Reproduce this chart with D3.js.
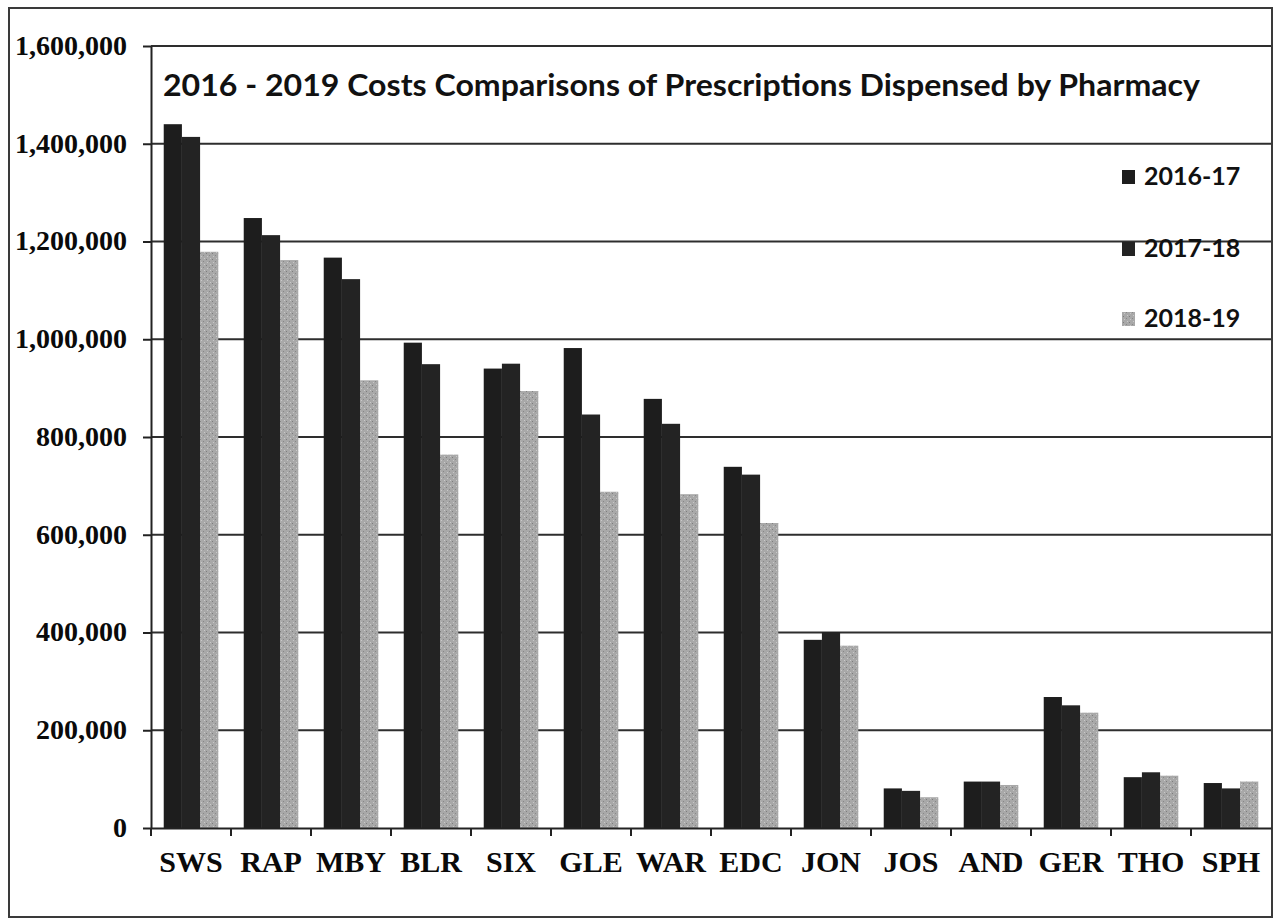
<!DOCTYPE html>
<html>
<head>
<meta charset="utf-8">
<script src="https://cdn.jsdelivr.net/npm/d3@7"></script>
<style>
  html, body { margin: 0; padding: 0; background: #fff; }
  svg { display: block; }
</style>
</head>
<body>
<svg id="chart" width="1279" height="919"></svg>
<script>
const categories = ["SWS","RAP","MBY","BLR","SIX","GLE","WAR","EDC","JON","JOS","AND","GER","THO","SPH"];
const seriesNames = ["2016-17","2017-18","2018-19"];
const values2016 = [1440000,1248000,1167000,993000,940000,982000,878000,739000,385000,81000,95000,268000,104000,92000];
const values2017 = [1414000,1213000,1123000,949000,950000,846000,827000,723000,401000,76000,95000,251000,114000,81000];
const values2018 = [1179000,1162000,916000,764000,894000,688000,683000,624000,373000,63000,88000,236000,107000,95000];
const yTicks = [0,200000,400000,600000,800000,1000000,1200000,1400000,1600000];
const titleText = "2016 - 2019 Costs Comparisons of Prescriptions Dispensed by Pharmacy";

const seriesValues = [values2016, values2017, values2018];
const colors = ["#1d1d1d", "#232323", "#a4a4a4"];

const svg = d3.select("#chart");
const plot = { left: 151, right: 1271, top: 46, bottom: 828 };

// outer frame
svg.append("rect").attr("x", 9).attr("y", 8).attr("width", 1263).attr("height", 909)
  .attr("fill", "#fff").attr("stroke", "#3a3a3a").attr("stroke-width", 2);

// speckle pattern for the gray series
const defs = svg.append("defs");
const pat = defs.append("pattern").attr("id", "speck").attr("patternUnits", "userSpaceOnUse")
  .attr("width", 6).attr("height", 6);
pat.append("rect").attr("width", 6).attr("height", 6).attr("fill", "#a8a8a8");
pat.append("rect").attr("x", 1).attr("y", 1).attr("width", 1).attr("height", 1).attr("fill", "#7d7d7d");
pat.append("rect").attr("x", 4).attr("y", 3).attr("width", 1).attr("height", 1).attr("fill", "#888");
pat.append("rect").attr("x", 2).attr("y", 4).attr("width", 1).attr("height", 1).attr("fill", "#c8c8c8");
pat.append("rect").attr("x", 5).attr("y", 0).attr("width", 1).attr("height", 1).attr("fill", "#cacaca");

const y = d3.scaleLinear().domain([0, 1600000]).range([plot.bottom, plot.top]);
const x0 = d3.scaleBand().domain(categories).range([plot.left, plot.right]).paddingInner(0).paddingOuter(0);
const x1 = d3.scaleBand().domain(seriesNames).range([0, x0.bandwidth()]).paddingInner(0).paddingOuter(0.7);

// gridlines
svg.append("g").selectAll("line").data(yTicks.filter(d => d > 0)).join("line")
  .attr("x1", plot.left).attr("x2", plot.right)
  .attr("y1", d => y(d)).attr("y2", d => y(d))
  .attr("stroke", "#2e2e2e").attr("stroke-width", 2);

// title
svg.append("text").attr("x", 163).attr("y", 96)
  .attr("font-family", "Lato, 'Open Sans', sans-serif").attr("font-weight", "bold")
  .attr("font-size", 30).attr("fill", "#111")
  .attr("textLength", 1037).attr("lengthAdjust", "spacingAndGlyphs")
  .text(titleText);

// bars
const groups = svg.append("g").selectAll("g").data(categories).join("g")
  .attr("transform", d => `translate(${x0(d)},0)`);
groups.selectAll("rect").data((c, i) => seriesNames.map((s, k) => ({ s, k, v: seriesValues[k][i] })))
  .join("rect")
  .attr("x", d => x1(d.s))
  .attr("width", x1.bandwidth())
  .attr("y", d => y(d.v))
  .attr("height", d => y(0) - y(d.v))
  .attr("fill", d => d.k === 2 ? "url(#speck)" : colors[d.k]);

// y axis
const yAxis = d3.axisLeft(y).tickValues(yTicks).tickSize(8).tickSizeOuter(0)
  .tickFormat(d3.format(","));
const yg = svg.append("g").attr("transform", `translate(${plot.left},0)`).call(yAxis);
yg.select(".domain").attr("stroke", "#222").attr("stroke-width", 2);
yg.selectAll(".tick line").attr("stroke", "#222").attr("stroke-width", 2);
yg.selectAll(".tick text")
  .attr("font-family", "'Liberation Serif', 'Times New Roman', serif").attr("font-weight", "bold")
  .attr("font-size", 28).attr("fill", "#0a0a0a").attr("x", -24).attr("dy", "0.3em");

// x axis
const xAxis = d3.axisBottom(x0).tickSize(0).tickSizeOuter(0);
const xg = svg.append("g").attr("transform", `translate(0,${plot.bottom})`).call(xAxis);
xg.select(".domain").attr("stroke", "#222").attr("stroke-width", 2);
xg.selectAll(".tick text")
  .attr("font-family", "'Liberation Serif', 'Times New Roman', serif").attr("font-weight", "bold")
  .attr("font-size", 30).attr("fill", "#0a0a0a").attr("y", 44).attr("dy", 0);
// category boundary ticks
svg.append("g").selectAll("line").data(categories).join("line")
  .attr("x1", d => x0(d)).attr("x2", d => x0(d))
  .attr("y1", plot.bottom).attr("y2", plot.bottom + 8)
  .attr("stroke", "#222").attr("stroke-width", 2);

// legend
const legendY = [185, 257, 327];
const lg = svg.append("g").selectAll("g").data(seriesNames).join("g")
  .attr("transform", (d, i) => `translate(1122,${legendY[i]})`);
lg.append("rect").attr("x", 0).attr("y", -15).attr("width", 13).attr("height", 14)
  .attr("fill", (d, i) => i === 2 ? "url(#speck)" : colors[i]);
lg.append("text").attr("x", 22).attr("y", 0)
  .attr("font-family", "Lato, 'Open Sans', sans-serif").attr("font-weight", "bold")
  .attr("font-size", 25).attr("fill", "#111")
  .text(d => d);
</script>
</body>
</html>
